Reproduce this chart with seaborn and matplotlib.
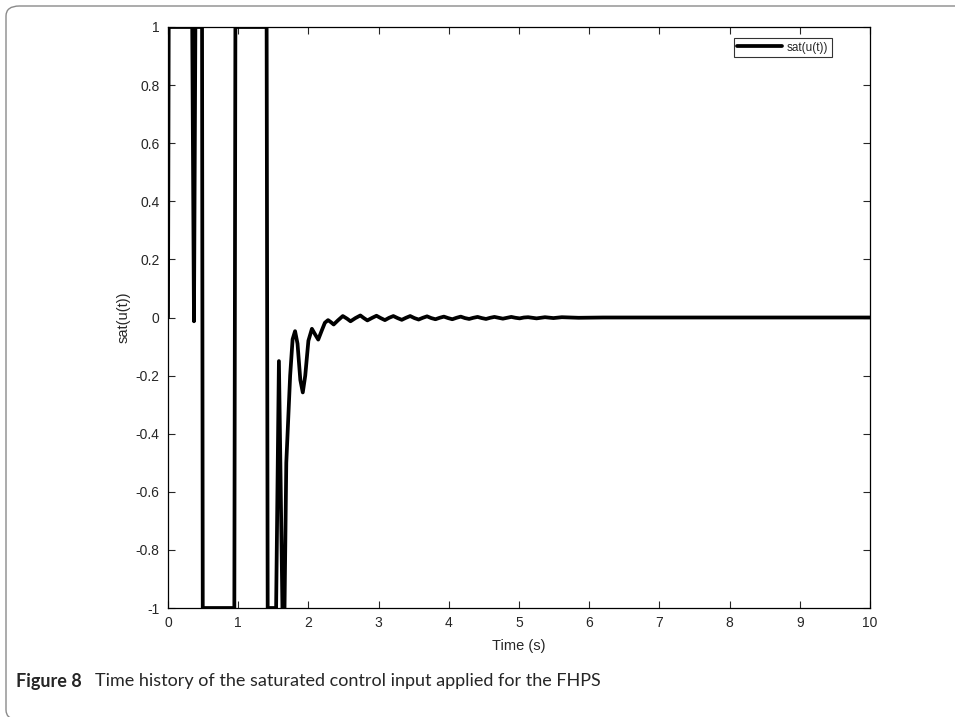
import numpy as np
import pandas as pd
import seaborn as sns
import matplotlib.pyplot as plt
from matplotlib.patches import FancyBboxPatch

# saturated control input (time in s, value)
time = [0.0, 0.01, 0.345, 0.37, 0.39, 0.485, 0.495, 0.945, 0.96, 1.405, 1.42,
        1.54, 1.58, 1.63, 1.66, 1.685, 1.74, 1.775, 1.81, 1.845, 1.885, 1.92,
        1.955, 2.0, 2.05, 2.10, 2.14, 2.19, 2.235, 2.28, 2.32, 2.36, 2.42, 2.49,
        2.55, 2.60, 2.67, 2.74, 2.79, 2.84, 2.91, 2.97, 3.03, 3.09, 3.15, 3.21,
        3.27, 3.33, 3.39, 3.45, 3.51, 3.57, 3.63, 3.69, 3.75, 3.81, 3.87, 3.93,
        3.99, 4.05, 4.11, 4.17, 4.23, 4.29, 4.35, 4.41, 4.47, 4.53, 4.59, 4.65,
        4.71, 4.77, 4.83, 4.89, 4.95, 5.01, 5.07, 5.13, 5.25, 5.37, 5.49, 5.61,
        5.85, 6.2, 10.0]
sat_u = [0.0, 1.0, 1.0, -0.013, 1.0, 1.0, -1.0, -1.0, 1.0, 1.0, -1.0,
         -1.0, -0.15, -1.0, -1.0, -0.5, -0.2, -0.075, -0.047, -0.09, -0.215, -0.258,
         -0.20, -0.08, -0.039, -0.06, -0.076, -0.045, -0.018, -0.009, -0.016, -0.024, -0.01, 0.005,
         -0.004, -0.013, -0.002, 0.007, -0.002, -0.010, -0.001, 0.006, -0.002, -0.009, -0.001, 0.005,
         -0.002, -0.008, -0.001, 0.005, -0.002, -0.007, -0.001, 0.004, -0.002, -0.006, -0.001, 0.003,
         -0.002, -0.006, -0.001, 0.003, -0.002, -0.005, -0.001, 0.002, -0.002, -0.005, -0.001, 0.002,
         -0.001, -0.004, -0.001, 0.002, -0.001, -0.003, 0.0, 0.001, -0.003, 0.001, -0.002, 0.001,
         -0.001, 0.0, 0.0]

x_ticks = list(range(0, 11))
y_ticks = [1, 0.8, 0.6, 0.4, 0.2, 0, -0.2, -0.4, -0.6, -0.8, -1]
y_tick_labels = ['1', '0.8', '0.6', '0.4', '0.2', '0', '-0.2', '-0.4', '-0.6', '-0.8', '-1']

df = pd.DataFrame({'t': time, 'u': sat_u})

sns.set_style("ticks")
plt.rcParams['font.family'] = ['Liberation Sans', 'DejaVu Sans']

fig = plt.figure(figsize=(9.55, 7.17), dpi=100)
ax = fig.add_axes([168 / 955, 1 - 608 / 717, (870 - 168) / 955, (608 - 27) / 717])

sns.lineplot(data=df, x='t', y='u', ax=ax, color='black', linewidth=2.7,
             label='sat(u(t))', sort=False, estimator=None)

ax.set_xlim(0, 10)
ax.set_ylim(-1, 1)
ax.set_xticks(x_ticks)
ax.set_xticklabels([str(v) for v in x_ticks], fontsize=10)
ax.set_yticks(y_ticks)
ax.set_yticklabels(y_tick_labels, fontsize=10)
ax.tick_params(direction='in', length=5, width=0.8, top=True, right=True, pad=6)
for s in ax.spines.values():
    s.set_linewidth(0.9)
    s.set_color('black')
ax.set_xlabel('Time (s)', fontsize=10.5, labelpad=6)
ax.set_ylabel('sat(u(t))', fontsize=10.5, labelpad=4)

leg = ax.legend(loc='upper right', bbox_to_anchor=(1 - 38 / 702, 1 - 11 / 581),
                fontsize=8.5, handlelength=3.8, frameon=True, fancybox=False,
                borderpad=0.3, handletextpad=0.4, borderaxespad=0)
leg.get_frame().set_edgecolor('black')
leg.get_frame().set_linewidth(0.8)

# rounded outer frame of the figure panel (bottom and right edges run off the image)
frame = FancyBboxPatch((6 / 955, -0.004), 1.2, 1 - 6 / 717 + 0.004,
                       boxstyle='round,pad=0,rounding_size=0.014',
                       transform=fig.transFigure, fill=False,
                       edgecolor='#8a8a8a', linewidth=1.0, clip_on=False)
fig.patches.append(frame)

fig.text(16 / 955, 1 - 681 / 717, 'Figure 8', fontsize=13, fontweight='bold',
         family=['Lato', 'DejaVu Sans'], va='center', ha='left')
fig.text(95 / 955, 1 - 681 / 717,
         'Time history of the saturated control input applied for the FHPS',
         fontsize=13, family=['Lato', 'DejaVu Sans'], va='center', ha='left')

fig.savefig('out.png', dpi=100)
